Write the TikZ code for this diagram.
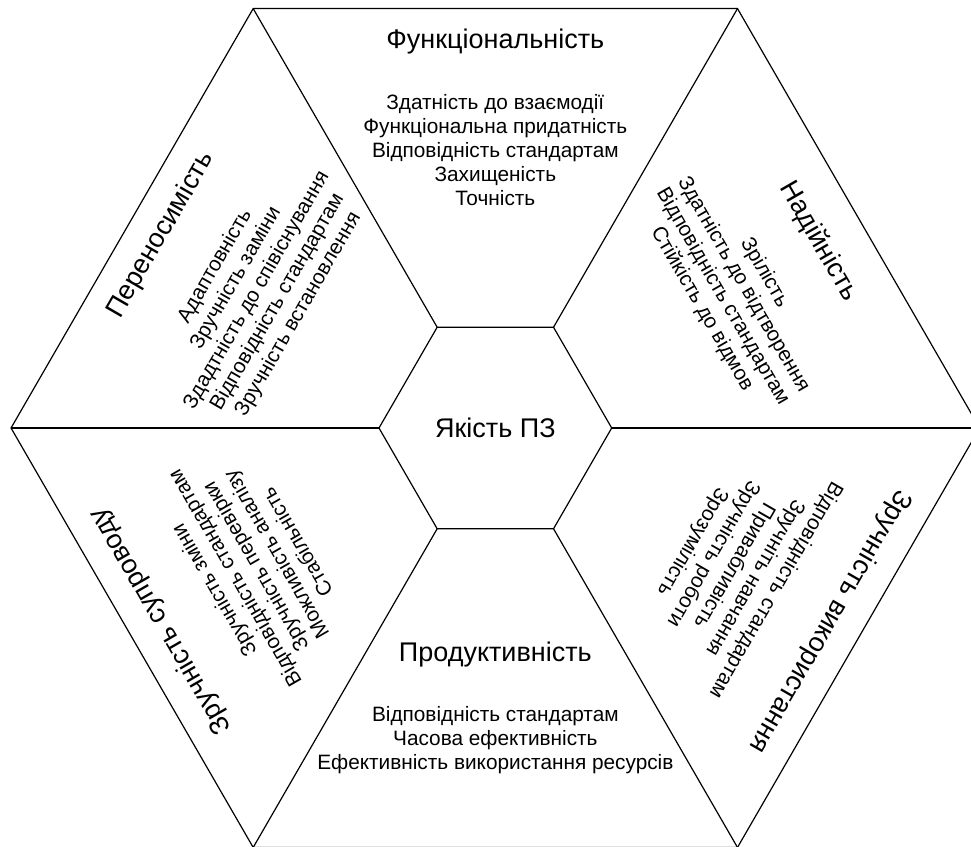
\documentclass[tikz,border=0pt]{standalone}
\usepackage{fontspec}
\setmainfont{Liberation Sans}

\newcommand\headfont{\fontsize{27}{32}\selectfont}
\newcommand\itemfont{\fontsize{20.8}{24}\selectfont}

\tikzset{
  edge/.style={draw=black, line width=1.2pt, line join=miter},
  head/.style={font=\headfont, inner sep=0pt, anchor=base},
  itm/.style={font=\itemfont, inner sep=0pt, anchor=base},
}

% One sector of the hexagon: name, rotation, inward shift, heading, items
\newcommand\sectortext[5]{%
  \begin{scope}[rotate=#2]
    \node[head, rotate=#2] (#1) at (0,379-#3) {#4};
    \foreach \t [count=\k from 0] in {#5}
      \node[itm, rotate=#2] (#1-\k) at (0,318-#3-24*\k) {\t};
  \end{scope}}

\begin{document}
\begin{tikzpicture}[x=1pt, y=1pt]
  \useasboundingbox (-495.35,-418) rectangle (475.65,428);
  \clip (-495.35,-418) rectangle (475.65,428);

  % vertices of the outer and inner hexagons
  \foreach \a in {0,...,5} {
    \coordinate (o\a) at (\a*60:484.3);
    \coordinate (i\a) at (\a*60:116.35);
  }

  \draw[edge] (o0) -- (o1) -- (o2) -- (o3) -- (o4) -- (o5) -- cycle;
  \draw[edge] (i0) -- (i1) -- (i2) -- (i3) -- (i4) -- (i5) -- cycle;
  \foreach \a in {0,...,5}
    \draw[edge] (i\a) -- (o\a);

  \node[font=\headfont, inner sep=0pt] (q) at (0,0) {Якість ПЗ};

  \sectortext{fn}{0}{0}{Функціональність}%
    {Здатність до взаємодії,Функціональна придатність,Відповідність стандартам,Захищеність,Точність}
  \sectortext{pr}{60}{0}{Переносимість}%
    {Адаптовність,Зручність заміни,Здадтність до співіснування,Відповідність стандартам,Зручність встановлення}
  \sectortext{nd}{-60}{13}{Надійність}%
    {Зрілість,Здатність до відтворення,Відповідність стандартам,Стійкість до відмов}
  \sectortext{sp}{120}{0}{Зручність супроводу}%
    {Зручність зміни,Відповідність стандартам,Зручність перевірки,Можливість аналізу,Стабільність}
  \sectortext{vk}{-120}{0}{Зручність використання}%
    {Відповідність стандартам,Зручніть навчання,Привабливість,Зручність роботи,Зрозумілість}

  % bottom sector is set upright, heading next to the centre
  \node[head] (pd) at (0,-233) {Продуктивність};
  \foreach \t [count=\k from 0] in {Відповідність стандартам,Часова ефективність,Ефективність використання ресурсів}
    \node[itm] (pd-\k) at (0,-293-24*\k) {\t};
\end{tikzpicture}
\end{document}
